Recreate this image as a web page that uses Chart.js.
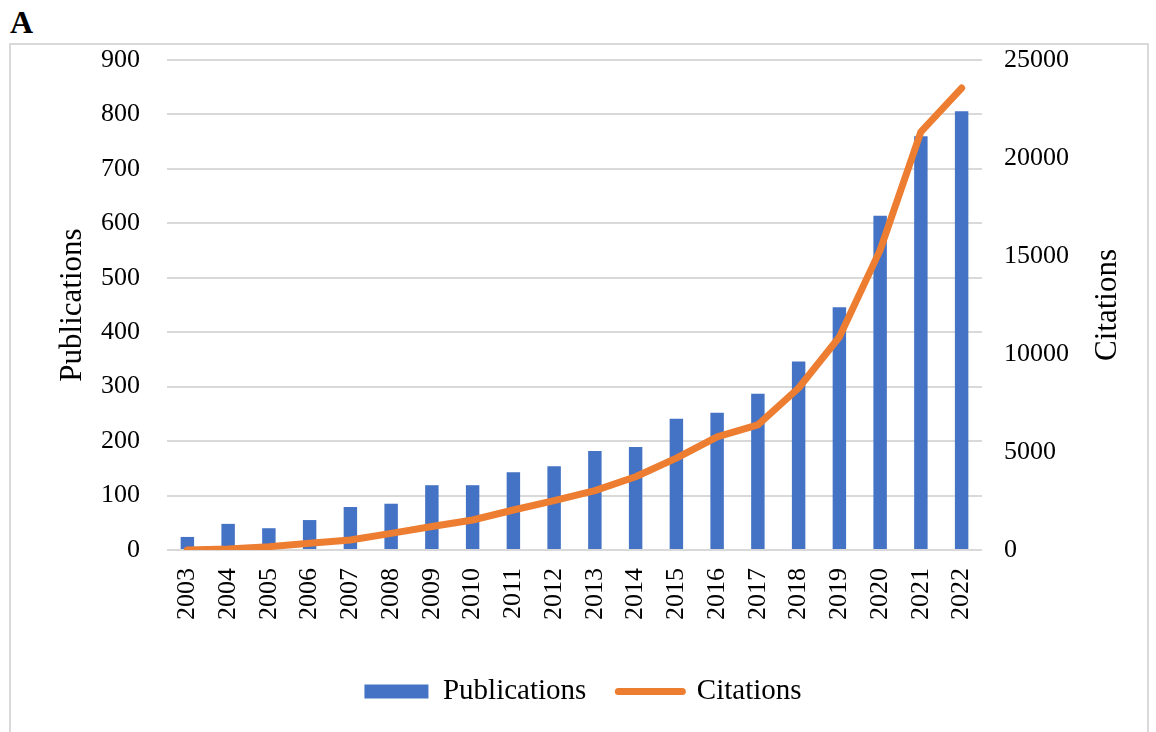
<!DOCTYPE html>
<html>
<head>
<meta charset="utf-8">
<script src="https://cdn.jsdelivr.net/npm/chart.js@4.4.1/dist/chart.umd.min.js"></script>
<style>
  html, body { margin: 0; padding: 0; background: #fff; }
  body { width: 1156px; height: 732px; position: relative; overflow: hidden; }
  .label {
    position: absolute; left: 10px; top: 4px;
    font: bold 32px 'Liberation Serif', serif; color: #000;
  }
  .frame {
    position: absolute; left: 9px; top: 43px; width: 1140px; height: 720px;
    border: 2px solid #d9d9d9; box-sizing: border-box;
  }
  canvas { position: absolute; left: 0; top: 0; }
</style>
</head>
<body>
<div class="label">A</div>
<div class="frame"></div>
<canvas id="myChart" width="1156" height="732"></canvas>
<script>
const years = ['2003', '2004', '2005', '2006', '2007', '2008', '2009', '2010', '2011', '2012',
  '2013', '2014', '2015', '2016', '2017', '2018', '2019', '2020', '2021', '2022'];
const publications = [24, 48, 40, 55, 79, 85, 119, 119, 143, 154,
  182, 189, 241, 252, 287, 346, 446, 614, 760, 806];
const citations = [0, 50, 170, 350, 510, 850, 1200, 1530, 2040, 2515,
  3030, 3740, 4690, 5770, 6380, 8265, 10870, 15300, 21330, 23570];

const serif = "'Liberation Serif', 'Times New Roman', serif";

const context = document.getElementById('myChart').getContext('2d');

// right axis title reads bottom-to-top, same as the left one
const rightTitle = {
  id: 'right-title',
  afterDraw(chart) {
    const { ctx, chartArea } = chart;
    ctx.save();
    ctx.translate(1108, (chartArea.top + chartArea.bottom) / 2);
    ctx.rotate(-Math.PI / 2);
    ctx.textAlign = 'center';
    ctx.textBaseline = 'middle';
    ctx.fillStyle = '#000';
    ctx.font = '31px ' + serif;
    ctx.fillText('Citations', 0, 0);
    ctx.restore();
  },
};

new Chart(context, {
  data: {
    labels: years,
    datasets: [
      {
        type: 'bar',
        label: 'Publications',
        data: publications,
        yAxisID: 'y',
        backgroundColor: '#4472C4',
        borderWidth: 0,
        barPercentage: 0.33,
        categoryPercentage: 1,
        order: 2,
      },
      {
        type: 'line',
        label: 'Citations',
        data: citations,
        yAxisID: 'y1',
        borderColor: '#ED7D31',
        backgroundColor: '#ED7D31',
        borderWidth: 7,
        borderCapStyle: 'round',
        borderJoinStyle: 'round',
        pointRadius: 0,
        tension: 0,
        order: 1,
      },
    ],
  },
  plugins: [rightTitle],
  options: {
    responsive: false,
    animation: false,
    layout: {
      padding: { left: 10, right: 0, top: 60, bottom: 16 },
    },
    plugins: {
      title: { display: false },
      tooltip: { enabled: false },
      legend: {
        position: 'bottom',
        labels: {
          usePointStyle: true,
          pointStyleWidth: 64,
          boxHeight: 14,
          padding: 32,
          color: '#000',
          font: { family: serif, size: 29 },
          sort: (a, b) => a.datasetIndex - b.datasetIndex,
          generateLabels(chart) {
            const items = Chart.defaults.plugins.legend.labels.generateLabels(chart);
            items.forEach((item) => {
              if (item.datasetIndex === 0) {
                item.pointStyle = 'rect';
                item.lineWidth = 0;
              } else {
                item.pointStyle = 'line';
                item.lineWidth = 7;
                item.lineCap = 'round';
                item.strokeStyle = '#ED7D31';
              }
            });
            return items;
          },
        },
      },
    },
    scales: {
      x: {
        grid: { display: false },
        border: { display: false },
        ticks: {
          color: '#000',
          font: { family: serif, size: 26 },
          minRotation: 90,
          maxRotation: 90,
          padding: 10,
        },
        afterFit(scale) {
          scale.height = 95;
        },
      },
      y: {
        position: 'left',
        min: 0,
        max: 900,
        grid: { color: '#d9d9d9', lineWidth: 2, drawTicks: false },
        border: { display: false },
        ticks: {
          stepSize: 100,
          color: '#000',
          font: { family: serif, size: 26 },
          padding: 27,
        },
        title: {
          display: true,
          text: 'Publications',
          color: '#000',
          font: { family: serif, size: 31 },
          padding: { top: 44, bottom: 0 },
        },
        afterFit(scale) {
          scale.width = 157;
        },
      },
      y1: {
        position: 'right',
        min: 0,
        max: 25000,
        grid: { drawOnChartArea: false, drawTicks: false },
        border: { display: false },
        ticks: {
          stepSize: 5000,
          color: '#000',
          font: { family: serif, size: 26 },
          padding: 22,
          callback: (value) => String(value),
        },
        afterFit(scale) {
          scale.width = 174;
        },
      },
    },
  },
});
</script>
</body>
</html>
